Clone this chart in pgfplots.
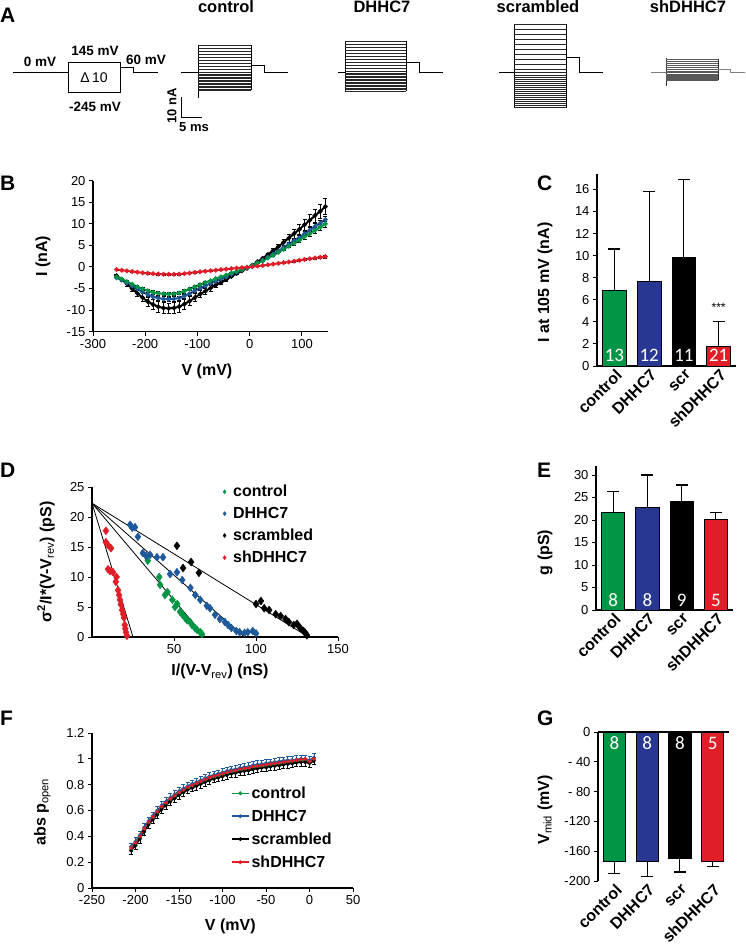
\documentclass[border=0pt]{standalone}
\usepackage{pgfplots}
\usepackage{pgfplotstable}
\pgfplotsset{compat=1.18}
\usepackage{fontspec}
\setmainfont{Liberation Sans}
\newfontfamily\calfont{Carlito}

\definecolor{cgreen}{RGB}{0,150,70}
\definecolor{lblue}{RGB}{30,90,155}
\definecolor{bblue}{RGB}{40,55,145}
\definecolor{cred}{RGB}{225,30,40}

% panel B: I-V curves
\pgfplotstableread{
V ctrl dhhc scr sh
-255 -2.3 -2.5 -2.0 -0.6
-245 -2.8 -3.0 -2.9 -0.75
-235 -3.4 -3.7 -3.9 -0.9
-225 -4.0 -4.4 -5.0 -1.05
-215 -4.6 -5.1 -6.1 -1.2
-205 -5.1 -5.8 -7.1 -1.35
-195 -5.5 -6.4 -8.0 -1.45
-185 -5.9 -6.9 -8.7 -1.55
-175 -6.1 -7.2 -9.2 -1.62
-165 -6.2 -7.4 -9.5 -1.67
-155 -6.3 -7.5 -9.6 -1.7
-145 -6.2 -7.4 -9.5 -1.7
-135 -6.0 -7.2 -9.2 -1.65
-125 -5.6 -6.7 -8.6 -1.55
-115 -5.1 -6.2 -7.9 -1.4
-105 -4.6 -5.5 -7.1 -1.25
-95 -4.1 -4.9 -6.3 -1.1
-85 -3.6 -4.4 -5.6 -0.98
-75 -3.2 -3.8 -4.9 -0.86
-65 -2.7 -3.3 -4.2 -0.74
-55 -2.3 -2.8 -3.6 -0.62
-45 -1.9 -2.3 -2.9 -0.5
-35 -1.4 -1.7 -2.2 -0.38
-25 -1.0 -1.2 -1.5 -0.26
-15 -0.6 -0.7 -0.9 -0.15
-5 -0.2 -0.2 -0.3 -0.05
5 0.3 0.3 0.4 0.07
15 0.9 0.9 1.2 0.2
25 1.4 1.6 2.0 0.35
35 2.1 2.3 2.9 0.5
45 2.7 3.0 3.8 0.68
55 3.4 3.7 4.7 0.85
65 4.1 4.5 5.7 1.0
75 4.8 5.3 6.7 1.15
85 5.5 6.1 7.7 1.35
95 6.2 6.8 8.7 1.55
105 7.0 7.7 9.8 1.75
115 7.7 8.5 10.8 1.9
125 8.5 9.4 11.9 2.1
135 9.2 10.1 12.9 2.25
145 10.0 11.0 14.0 2.4
}\IVdata

% panel F: open probability
\pgfplotstableread{
V ctrl dhhc scr sh
-205 0.30 0.32 0.29 0.31
-200 0.34 0.36 0.33 0.35
-195 0.39 0.41 0.38 0.40
-190 0.45 0.47 0.44 0.46
-185 0.50 0.52 0.49 0.51
-180 0.54 0.56 0.53 0.55
-175 0.58 0.60 0.57 0.59
-170 0.62 0.64 0.61 0.63
-165 0.65 0.67 0.64 0.66
-160 0.68 0.70 0.67 0.69
-155 0.705 0.725 0.695 0.715
-150 0.73 0.75 0.72 0.74
-145 0.75 0.77 0.74 0.76
-140 0.77 0.79 0.76 0.78
-135 0.785 0.805 0.775 0.795
-130 0.80 0.82 0.79 0.81
-125 0.815 0.835 0.805 0.825
-120 0.83 0.85 0.82 0.84
-115 0.845 0.865 0.835 0.855
-110 0.855 0.875 0.845 0.865
-105 0.865 0.885 0.855 0.875
-100 0.875 0.895 0.865 0.885
-95 0.885 0.905 0.875 0.895
-90 0.895 0.915 0.885 0.905
-85 0.90 0.92 0.89 0.91
-80 0.91 0.93 0.90 0.92
-75 0.915 0.935 0.905 0.925
-70 0.92 0.94 0.91 0.93
-65 0.93 0.95 0.92 0.94
-60 0.935 0.955 0.925 0.945
-55 0.94 0.96 0.93 0.95
-50 0.945 0.965 0.935 0.955
-45 0.95 0.97 0.94 0.96
-40 0.955 0.975 0.945 0.965
-35 0.96 0.98 0.95 0.97
-30 0.965 0.985 0.955 0.975
-25 0.97 0.99 0.96 0.98
-20 0.975 0.99 0.965 0.985
-15 0.98 0.995 0.97 0.99
-10 0.985 1.0 0.975 0.995
-5 0.985 1.0 0.975 1.0
0 0.98 0.99 0.965 0.98
5 0.995 1.01 0.985 1.0
}\Podata

\tikzset{num/.style={font=\calfont\fontsize{19}{19}\selectfont, text=white}}
\pgfplotsset{
  panel/.style={scale only axis, anchor=south west, clip=false,
    axis lines=left, axis line style={-, line width=1.1pt},
    tick align=outside, major tick length=4pt,
    tick style={black, line width=1pt},
    tick label style={font=\fontsize{13}{15}\selectfont},
    label style={font=\bfseries\fontsize{16}{18}\selectfont},
    /pgf/number format/assume math mode=true},
  barpanel/.style={panel, xmin=0.5, xmax=4.5, xtick={1,2,3,4},
    xticklabels={control,DHHC7,scr,shDHHC7},
    x tick label style={xshift=7pt, rotate=45, anchor=east, font=\bfseries\fontsize{16}{18}\selectfont},
    xtick style={draw=none}, ybar, bar width=0.68,
    error bars/y dir=plus},
  bb/.style={fill=#1, draw=black, line width=0.7pt, bar shift=0pt,
    error bars/.cd, y explicit, error mark=|,
    error bar style={line width=1.2pt, black},
    error mark options={line width=1.2pt, mark size=6pt, black}},
  iv/.style={line width=2pt, mark=*, mark size=1.2pt,
    error bars/.cd, y dir=both, y fixed relative=#1, error mark=|,
    error bar style={line width=0.6pt, black},
    error mark options={line width=0.6pt, mark size=2pt, black}},
  trace/.style={only marks, mark=-, mark size=#1pt, mark options={line width=0.45pt}},
}

\begin{document}
\begin{tikzpicture}
\path[use as bounding box] (0,0) rectangle (745pt,-952pt);

% panel letters
\foreach \l/\x/\y in {A/0/15,B/0/183,C/537/183,D/0/470,E/537/470,F/0/718,G/537/718}
  \node[anchor=west, font=\bfseries\fontsize{21}{21}\selectfont, inner sep=0pt] at (\x pt,-\y pt) {\l};

% ---------- A: protocol and traces ----------
\begin{axis}[at={(0pt,0pt)}, anchor=north west, scale only axis,
  width=745pt, height=140pt, xmin=0, xmax=745, ymin=0, ymax=140,
  y dir=reverse, hide axis, clip=false]
\addplot[black, line width=1pt] coordinates {(13,72) (68,72)};
\addplot[black, line width=1pt] coordinates {(68,62) (120,62) (120,92) (68,92) (68,62)};
\addplot[black, line width=1pt] coordinates {(120,67) (133,67) (133,72) (158,72)};
\node[font=\bfseries\fontsize{13.5}{15}\selectfont] at (axis cs:40,62) {0 mV};
\node[font=\bfseries\fontsize{13.5}{15}\selectfont] at (axis cs:95,51) {145 mV};
\node[font=\bfseries\fontsize{13.5}{15}\selectfont] at (axis cs:146,60) {60 mV};
\node[font=\fontsize{14}{15}\selectfont] at (axis cs:94,78) {Δ\,10};
\node[font=\bfseries\fontsize{13.5}{15}\selectfont] at (axis cs:95,107) {-245 mV};
% scale bar
\addplot[black, line width=1pt] coordinates {(181,97) (181,117) (202,117)};
\node[rotate=90, font=\bfseries\fontsize{13}{14}\selectfont] at (axis cs:172,106) {10 nA};
\node[font=\bfseries\fontsize{13}{14}\selectfont] at (axis cs:194,127) {5 ms};
% titles
\node[font=\bfseries\fontsize{16.5}{18}\selectfont, anchor=base] at (axis cs:226,13) {control};
\node[font=\bfseries\fontsize{16.5}{18}\selectfont, anchor=base] at (axis cs:382,13) {DHHC7};
\node[font=\bfseries\fontsize{16.5}{18}\selectfont, anchor=base] at (axis cs:538,13) {scrambled};
\node[font=\bfseries\fontsize{16.5}{18}\selectfont, anchor=base] at (axis cs:688,13) {shDHHC7};
% control trace
\addplot[black, line width=0.9pt] coordinates {(181,72) (198,72)};
\addplot[black, line width=0.9pt] coordinates {(198,45) (198,98)};
\addplot[black, line width=0.9pt] coordinates {(251,45) (251,90)};
\addplot[black, line width=0.9pt] coordinates {(251,65) (264,65) (264,72) (288,72)};
\addplot[black!85, trace=26.5] coordinates {(224.5,45) (224.5,48) (224.5,51) (224.5,54) (224.5,57) (224.5,60) (224.5,63) (224.5,66) (224.5,69) (224.5,72) (224.5,74) (224.5,75.5) (224.5,77) (224.5,78.5) (224.5,80) (224.5,81.5) (224.5,83) (224.5,84.5) (224.5,86) (224.5,87.5) (224.5,89) (224.5,90)};
% DHHC7 trace
\addplot[black, line width=0.9pt] coordinates {(338,72) (345,72)};
\addplot[black, line width=0.9pt] coordinates {(345,41) (345,92)};
\addplot[black, line width=0.9pt] coordinates {(406,41) (406,91)};
\addplot[black, line width=0.9pt] coordinates {(406,62) (419,62) (419,72) (443,72)};
\addplot[black!85, trace=30.5] coordinates {(375.5,41) (375.5,44) (375.5,47) (375.5,50) (375.5,53) (375.5,56) (375.5,59) (375.5,62) (375.5,65) (375.5,68) (375.5,71) (375.5,73) (375.5,74.5) (375.5,76) (375.5,77.5) (375.5,79) (375.5,80.5) (375.5,82) (375.5,83.5) (375.5,85) (375.5,86.5) (375.5,88) (375.5,89.5) (375.5,91)};
% scrambled trace
\addplot[black, line width=0.9pt] coordinates {(499,72) (514,72)};
\addplot[black, line width=0.9pt] coordinates {(514,24) (514,108)};
\addplot[black, line width=0.9pt] coordinates {(566,24) (566,108)};
\addplot[black, line width=0.9pt] coordinates {(566,57) (579,57) (579,72) (603,72)};
\addplot[black!85, trace=26] coordinates {(540,24) (540,29) (540,34) (540,39) (540,44) (540,49) (540,54) (540,59) (540,64) (540,69) (540,72) (540,75) (540,77) (540,79) (540,81) (540,83) (540,85) (540,87) (540,89) (540,91) (540,93) (540,95) (540,97) (540,99) (540,101) (540,103) (540,105) (540,107)};
% shDHHC7 trace
\addplot[gray, line width=0.7pt] coordinates {(651,72) (666,72)};
\addplot[black!80, line width=0.8pt] coordinates {(666,58) (666,86)};
\addplot[black!80, line width=0.8pt] coordinates {(718,59) (718,80)};
\addplot[gray, line width=0.7pt] coordinates {(718,69) (730,69) (730,72) (745,72)};
\addplot[black!65, trace=26] coordinates {(692,59) (692,61) (692,63) (692,65) (692,67) (692,69) (692,71) (692,72.5) (692,74) (692,75) (692,76) (692,77) (692,78) (692,79) (692,80)};
\end{axis}

% ---------- B: I-V ----------
\begin{axis}[panel, at={(93pt,-331.7pt)}, width=235pt, height=151pt,
  xmin=-300, xmax=150, ymin=-15, ymax=20,
  xtick={-300,-200,-100,0,100}, ytick={-15,-10,...,20},
  xlabel={V (mV)}, ylabel={I (nA)},
  xlabel style={at={(axis description cs:0.485,-0.26)}, anchor=center},
  ylabel style={at={(axis description cs:-0.213,0.5)}, anchor=center}]
\addplot[black, iv=0.13] table[x=V, y=scr] {\IVdata};
\addplot[lblue, iv=0.07] table[x=V, y=dhhc] {\IVdata};
\addplot[cgreen, iv=0.07] table[x=V, y=ctrl] {\IVdata};
\addplot[cred, iv=0.12] table[x=V, y=sh] {\IVdata};
\end{axis}

% ---------- C ----------
\begin{axis}[barpanel, at={(597pt,-366pt)}, width=139pt, height=192pt,
  ymin=0, ymax=17.4, ytick={0,2,...,16},
  ylabel={I at 105 mV (nA)},
  ylabel style={at={(axis description cs:-0.374,0.435)}, anchor=center}]
\addplot[bb=cgreen] coordinates {(1,6.9) +- (0,3.7)};
\addplot[bb=bblue] coordinates {(2,7.7) +- (0,8.1)};
\addplot[bb=black] coordinates {(3,9.85) +- (0,7.05)};
\addplot[bb=cred] coordinates {(4,1.8) +- (0,2.2)};
\node[num] at (axis cs:1,1.0) {13};
\node[num] at (axis cs:2,1.0) {12};
\node[num] at (axis cs:3,1.0) {11};
\node[num] at (axis cs:4,1.0) {21};
\node[font=\fontsize{12}{12}\selectfont] at (axis cs:4,5.3) {***};
\end{axis}

% ---------- D ----------
\begin{axis}[panel, at={(92pt,-637pt)}, width=246pt, height=150pt,
  xmin=0, xmax=150, ymin=0, ymax=25,
  xtick={50,100,150}, ytick={0,5,...,25},
  xlabel={I/(V-V\textsubscript{\mdseries rev}) (nS)},
  ylabel={σ\textsuperscript{2}/I*(V-V\textsubscript{\mdseries rev}) (pS)},
  xlabel style={at={(axis description cs:0.52,-0.23)}, anchor=center},
  ylabel style={at={(axis description cs:-0.187,0.5)}, anchor=center},
  legend style={at={(axis description cs:0.52,1.04)}, anchor=north west,
    draw=none, fill=none, font=\bfseries\fontsize{16}{19}\selectfont,
    row sep=5pt, legend cell align=left,
    /tikz/every odd column/.append style={column sep=5pt}},
  legend image post style={mark size=2pt}]
\addplot[black, line width=0.8pt, forget plot] coordinates {(0,22.3) (25,0)};
\addplot[black, line width=0.8pt, forget plot] coordinates {(0,22.3) (69,0)};
\addplot[black, line width=0.8pt, forget plot] coordinates {(0,22.3) (93,0)};
\addplot[black, line width=0.8pt, forget plot] coordinates {(0,22.3) (132,0)};
\addplot[only marks, mark=diamond*, mark size=4pt, color=cgreen] coordinates {
(34,12.7) (41,10) (41.5,8.7) (44.5,7) (46,7.5) (49,6.2) (50.6,5) (52,5.5) (53.7,4.2)
(55,3.8) (56.7,3.2) (58,2.8) (59.8,2.5) (61,2) (62.8,1.5) (64,1.2) (66,0.8) (67,0.5)};
\addlegendentry{control}
\addplot[only marks, mark=diamond*, mark size=4pt, color=lblue] coordinates {
(23.2,18.7) (24.5,18.2) (26.2,18.3) (28,16.7) (31,14) (33,13.5) (35.4,13.7) (39.6,13.3)
(43.3,13.3) (47.6,10.5) (51.8,10.8) (55,9.5) (60,8.2) (63,7) (66,6.2) (70,5.2) (72,4.8)
(75,3.7) (78,3) (81,2.5) (83,2) (85,1.5) (88,1) (90,0.8) (93,0.7) (95,0.8) (98,1.0) (100,0.6)};
\addlegendentry{DHHC7}
\addplot[only marks, mark=diamond*, mark size=4pt, color=black] coordinates {
(51.8,15.2) (55.5,11.5) (60.4,12.5) (65.2,10.7) (100,5.5) (103,6) (105,4.8) (108,4.5)
(112,3.8) (115,3.5) (118,3) (120,2.5) (123,2) (125,2.2) (127,1.5) (129,1) (130,0.7) (131,0.3)};
\addlegendentry{scrambled}
\addplot[only marks, mark=diamond*, mark size=4pt, color=cred] coordinates {
(8.5,17.7) (8.5,15.8) (9.8,15.3) (11.6,14.8) (9.8,11.3) (11,11) (12.8,10.8) (15,10)
(14.5,9.2) (15.9,7.8) (16.5,7) (17,6.2) (17.6,5.4) (18.3,4.5) (19,3.8) (19.5,3.2)
(20,2) (20.3,1.4) (20.7,0.8) (21.3,0.2)};
\addlegendentry{shDHHC7}
\end{axis}

% ---------- E ----------
\begin{axis}[barpanel, at={(596pt,-610pt)}, width=137pt, height=144pt,
  ymin=0, ymax=32, ytick={0,5,...,30},
  ylabel={g (pS)},
  ylabel style={at={(axis description cs:-0.372,0.4)}, anchor=center}]
\addplot[bb=cgreen] coordinates {(1,21.8) +- (0,4.5)};
\addplot[bb=bblue] coordinates {(2,22.8) +- (0,7.2)};
\addplot[bb=black] coordinates {(3,24.1) +- (0,3.7)};
\addplot[bb=cred] coordinates {(4,20.2) +- (0,1.4)};
\node[num] at (axis cs:1,2.2) {8};
\node[num] at (axis cs:2,2.2) {8};
\node[num] at (axis cs:3,2.2) {9};
\node[num] at (axis cs:4,2.2) {5};
\end{axis}

% ---------- F ----------
\begin{axis}[panel, at={(92pt,-888pt)}, width=261pt, height=155pt,
  xmin=-250, xmax=50, ymin=0, ymax=1.2,
  xtick={-250,-200,...,50}, ytick={0,0.2,0.4,0.6,0.8,1,1.2},
  xlabel={V (mV)}, ylabel={abs p\textsubscript{\mdseries open}},
  xlabel style={at={(axis description cs:0.53,-0.25)}, anchor=center},
  ylabel style={at={(axis description cs:-0.19,0.49)}, anchor=center},
  legend style={at={(axis description cs:0.52,0.68)}, anchor=north west,
    draw=none, fill=none, font=\bfseries\fontsize{16}{19}\selectfont,
    row sep=6pt, legend cell align=left}]
\addplot[cgreen, line width=1.6pt, mark=*, mark size=1pt,
  error bars/.cd, y dir=both, y fixed=0.015, error mark=|,
  error bar style={line width=0.6pt}, error mark options={mark size=1.5pt, line width=0.6pt}
  ] table[x=V, y=ctrl] {\Podata};
\addplot[lblue, line width=1.6pt, mark=*, mark size=1pt,
  error bars/.cd, y dir=plus, y fixed=0.03, error mark=|,
  error bar style={line width=0.6pt}, error mark options={mark size=2pt, line width=0.6pt},
  ] table[x=V, y=dhhc] {\Podata};
\addplot[black, line width=1.6pt, mark=*, mark size=1pt,
  error bars/.cd, y dir=minus, y fixed=0.03, error mark=|,
  error bar style={line width=0.6pt}, error mark options={mark size=2pt, line width=0.6pt},
  ] table[x=V, y=scr] {\Podata};
\addplot[cred, line width=1.6pt, mark=*, mark size=1pt] table[x=V, y=sh] {\Podata};
\legend{control, DHHC7, scrambled, shDHHC7}
\end{axis}

% ---------- G ----------
\begin{axis}[barpanel, at={(598pt,-881pt)}, width=131pt, height=149pt,
  ymin=-200, ymax=0, ytick={-200,-160,-120,-80,-40,0},
  yticklabels={-200,-160,-120,- 80,- 40,0},
  x axis line style={draw=none},
  error bars/y dir=minus,
  ylabel={V\textsubscript{\mdseries mid} (mV)},
  ylabel style={at={(axis description cs:-0.405,0.477)}, anchor=center}]
\draw[line width=1.1pt] (rel axis cs:0,1) -- (rel axis cs:1,1);
\addplot[bb=cgreen] coordinates {(1,-173) +- (0,17)};
\addplot[bb=bblue] coordinates {(2,-173) +- (0,21)};
\addplot[bb=black] coordinates {(3,-170) +- (0,18)};
\addplot[bb=cred] coordinates {(4,-173) +- (0,7)};
\node[num] at (axis cs:1,-15) {8};
\node[num] at (axis cs:2,-15) {8};
\node[num] at (axis cs:3,-15) {8};
\node[num] at (axis cs:4,-15) {5};
\end{axis}
\end{tikzpicture}
\end{document}
